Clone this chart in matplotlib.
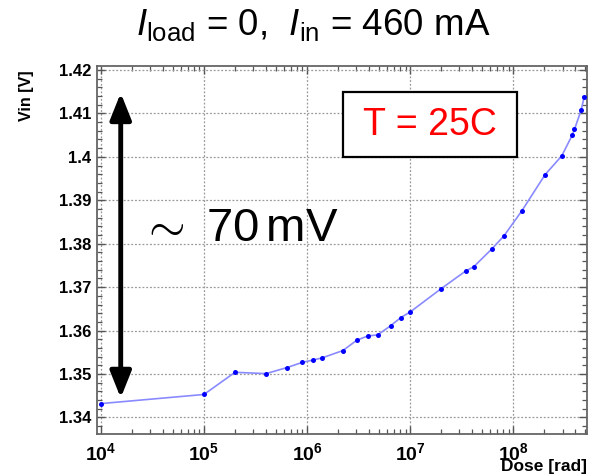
import numpy as np
import matplotlib
matplotlib.use('Agg')
import matplotlib.pyplot as plt
from matplotlib.ticker import LogLocator, MultipleLocator, FixedFormatter, NullFormatter
from matplotlib.patches import Rectangle, FancyArrowPatch

plt.rcParams['font.family'] = ['Liberation Sans', 'DejaVu Sans']
plt.rcParams['mathtext.fontset'] = 'custom'
plt.rcParams['mathtext.rm'] = 'Liberation Sans'
plt.rcParams['mathtext.it'] = 'Liberation Sans:italic'
plt.rcParams['mathtext.bf'] = 'Liberation Sans:bold'

# dose [rad] vs input voltage [V]
dose = [1e4, 1e5, 2.0e5, 4.0e5, 6.4e5, 9.0e5, 1.13e6, 1.39e6, 2.22e6, 3.04e6,
        3.91e6, 4.82e6, 6.44e6, 8.1e6, 1.0e7, 1.98e7, 3.44e7, 4.13e7, 6.18e7,
        8.1e7, 1.21e8, 2.03e8, 2.94e8, 3.74e8, 3.91e8, 4.53e8, 4.85e8]
vin = [1.3432, 1.3453, 1.3504, 1.3501, 1.3515, 1.3527, 1.3532, 1.3537, 1.3554,
       1.3578, 1.3588, 1.3590, 1.3611, 1.3630, 1.3643, 1.3696, 1.3737, 1.3747,
       1.3788, 1.3818, 1.3876, 1.3959, 1.4002, 1.4051, 1.4063, 1.4107, 1.4137]

xticks = [1e4, 1e5, 1e6, 1e7, 1e8]
xticklabels = [r'$\mathbf{10^{4}}$', r'$\mathbf{10^{5}}$', r'$\mathbf{10^{6}}$',
               r'$\mathbf{10^{7}}$', r'$\mathbf{10^{8}}$']
yticks = [1.34, 1.35, 1.36, 1.37, 1.38, 1.39, 1.40, 1.41, 1.42]
yticklabels = ['1.34', '1.35', '1.36', '1.37', '1.38', '1.39', '1.4', '1.41', '1.42']

arrow_x = 1.56e4
arrow_y = (1.3445, 1.4147)   # span of the ~70 mV marker

fig = plt.figure(figsize=(5.92, 4.75), dpi=100)
ax = fig.add_axes([0.1633, 0.0863, 0.8283, 0.7747])

ax.plot(dose, vin, '-', color='#8a8aff', lw=1.2, zorder=3)
ax.plot(dose, vin, 'o', color='#0000ff', ms=3.6, mec='none', zorder=4)

ax.set_xscale('log')
ax.set_xlim(10 ** 3.96, 10 ** 8.714)
ax.set_ylim(1.3362, 1.4209)

ax.set_xticks(xticks)
ax.xaxis.set_major_formatter(FixedFormatter(xticklabels))
ax.xaxis.set_minor_locator(LogLocator(base=10, subs=np.arange(2, 10)))
ax.xaxis.set_minor_formatter(NullFormatter())
ax.set_yticks(yticks)
ax.set_yticklabels(yticklabels)
ax.yaxis.set_minor_locator(MultipleLocator(0.002))

ax.tick_params(which='both', direction='in', top=True, right=True, color='#555555')
ax.tick_params(which='major', length=6, width=1.0, labelsize=12, pad=4)
ax.tick_params(axis='x', which='major', labelsize=14, pad=6)
ax.tick_params(which='minor', length=3.5, width=0.9)
for lab in ax.get_yticklabels():
    lab.set_fontweight('bold')
for sp in ax.spines.values():
    sp.set_color('#666666')
    sp.set_linewidth(1.3)

ax.grid(True, which='major', ls=(0, (1.5, 1.5)), color='#999999', lw=0.9)

# double arrow + label
arr = FancyArrowPatch((arrow_x, arrow_y[0]), (arrow_x, arrow_y[1]),
                      arrowstyle='<|-|>,head_length=0.8,head_width=0.32',
                      mutation_scale=20, lw=3.5, color='black',
                      shrinkA=0, shrinkB=0, zorder=5)
ax.add_patch(arr)
ax.text(0.09, 0.557, r'$\sim\ 70\,\mathrm{mV}$', transform=ax.transAxes,
        fontsize=34, ha='left', va='center', color='black')

# temperature box
ax.add_patch(Rectangle((0.5023, 0.7527), 0.3547, 0.1766, transform=ax.transAxes,
                       fill=True, fc='white', ec='black', lw=1.6, zorder=6))
ax.text(0.680, 0.841, 'T = 25C', transform=ax.transAxes, fontsize=27,
        color='#ff0000', ha='center', va='center', zorder=7)

fig.text(0.529, 0.947, r'$I_{\mathrm{load}}$ = 0,  $I_{\mathrm{in}}$ = 460 mA',
         fontsize=26.5, ha='center', va='center')
fig.text(27 / 592, 1 - 96 / 475, 'Vin [V]', rotation=90, fontsize=11.5,
         fontweight='bold', ha='center', va='center')
fig.text(587 / 592, 1 - 466 / 475, 'Dose [rad]', fontsize=12.5,
         fontweight='bold', ha='right', va='center')

fig.savefig('out.png', dpi=100)
